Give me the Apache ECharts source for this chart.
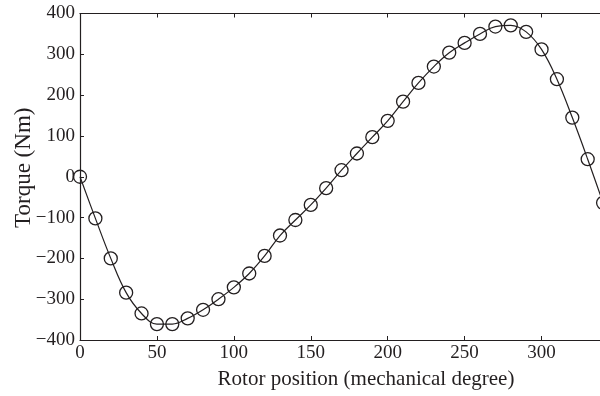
<!DOCTYPE html>
<html><head><meta charset="utf-8">
<script src="https://cdn.jsdelivr.net/npm/echarts@6/dist/echarts.min.js"></script>
<style>html,body{margin:0;padding:0;background:#fff}#c{width:600px;height:396px}</style>
</head><body><div id="c"></div>
<script>
var positions = [0,10,20,30,40,50,60,70,80,90,100,110,120,130,140,150,160,170,180,190,200,210,220,230,240,250,260,270,280,290,300,310,320,330,340];
var torque = [0,-102,-200,-284,-335,-361,-361,-347,-326,-300,-271,-237,-194,-144,-106,-69,-28,16,57,97,137,184,230,270,304,328,350,368,371,355,312,239,145,43,-64];
var xTicks = [0,50,100,150,200,250,300];
var yTicks = [-400,-300,-200,-100,0,100,200,300,400];

var font = 'Liberation Serif';
var col = '#231f20';
var chart = echarts.init(document.getElementById('c'), null, {renderer:'canvas'});
function fmt(v){ return String(v).replace('-', '\u2212'); }
var data = positions.map(function(p,i){ return [p, torque[i]]; });
chart.setOption({
  animation:false,
  grid:{left:80, top:13.5, width:520, height:326.5, containLabel:false, outerBoundsMode:'none'},
  xAxis:[{
    type:'value', min:0, max:338, interval:50, position:'bottom',
    name:'Rotor position (mechanical degree)', nameLocation:'middle', nameGap:29, nameMoveOverlap:false,
    nameTextStyle:{fontFamily:font, fontSize:21, color:col, padding:[0,0,0,52]},
    axisLine:{show:true, onZero:false, lineStyle:{color:col, width:1.2}},
    axisTick:{show:true, inside:true, length:4, lineStyle:{color:col}},
    axisLabel:{fontFamily:font, fontSize:19, color:col, margin:4, showMaxLabel:false, formatter:function(v){return xTicks.indexOf(v)>=0?fmt(v):'';}},
    splitLine:{show:false}
  },{
    type:'value', min:0, max:338, interval:50, position:'top',
    axisLine:{show:true, onZero:false, lineStyle:{color:col, width:1.2}},
    axisTick:{show:true, inside:true, length:4, lineStyle:{color:col}},
    axisLabel:{show:false}, splitLine:{show:false}
  }],
  yAxis:{
    type:'value', min:-400, max:400, interval:100,
    name:'Torque (Nm)', nameLocation:'middle', nameGap:45, nameMoveOverlap:false,
    nameTextStyle:{fontFamily:font, fontSize:23, color:col, padding:[0,0,0,18]},
    axisLine:{show:true, onZero:false, lineStyle:{color:col, width:1.2}},
    axisTick:{show:true, inside:true, length:4, lineStyle:{color:col}},
    axisLabel:{fontFamily:font, fontSize:19, color:col, margin:5, formatter:function(v){return yTicks.indexOf(v)>=0?fmt(v):'';}},
    splitLine:{show:false}
  },
  series:[{
    type:'line', data:data, smooth:0.4, xAxisIndex:0,
    symbol:'circle', symbolSize:13, showAllSymbol:true,
    lineStyle:{color:col, width:1.2},
    itemStyle:{color:'rgba(255,255,255,0)', borderColor:col, borderWidth:1.3},
    clip:false
  }]
});
</script></body></html>
